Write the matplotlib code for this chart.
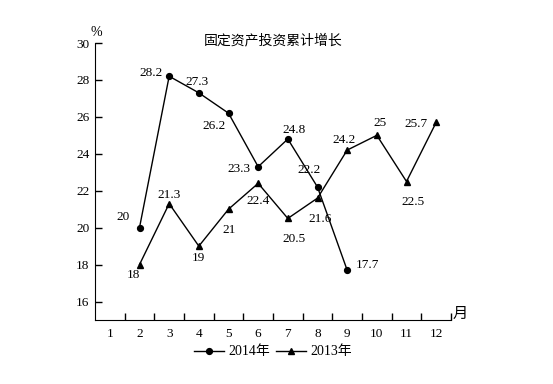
import matplotlib
matplotlib.use("Agg")
import matplotlib.pyplot as plt
from matplotlib.lines import Line2D

months = list(range(1, 13))
month_labels = [str(m) for m in months]
m2014 = [2, 3, 4, 5, 6, 7, 8, 9]
v2014 = [20, 28.2, 27.3, 26.2, 23.3, 24.8, 22.2, 17.7]
m2013 = [2, 3, 4, 5, 6, 7, 8, 9, 10, 11, 12]
v2013 = [18, 21.3, 19, 21, 22.4, 20.5, 21.6, 24.2, 25, 22.5, 25.7]
yticks = [16, 18, 20, 22, 24, 26, 28, 30]
title = "固定资产投资累计增长"
legend_labels = ["2014年", "2013年"]

off2014 = [(-16, 11), (-18, 3), (-2, 11), (-14, -13), (-19, -2), (6, 9), (-8, 17), (20, 5)]
off2013 = [(-6, -10), (0, 9), (0, -12), (1, -21), (0, -18), (6, -21), (3, -21), (-3, 10), (3, 12), (7, -20), (-20, -2)]

serif = ["Liberation Serif", "Noto Sans CJK SC"]
cjk = ["Noto Sans CJK SC", "Liberation Serif"]
plt.rcParams['font.family'] = serif

fig = plt.figure(figsize=(5.53, 3.84), dpi=100)
ax = fig.add_axes([95/553, 1-320/384, (451-95)/553, (320-43)/384])

ax.plot(m2014, v2014, color="black", lw=1, marker="o", ms=4.2)
ax.plot(m2013, v2013, color="black", lw=1, marker="^", ms=4.8)

for x, y, o in zip(m2014, v2014, off2014):
    ax.annotate(f"{y:g}", (x, y), xytext=o, textcoords="offset pixels",
                ha="center", va="center", fontsize=9.5, family=serif)
for x, y, o in zip(m2013, v2013, off2013):
    ax.annotate(f"{y:g}", (x, y), xytext=o, textcoords="offset pixels",
                ha="center", va="center", fontsize=9.5, family=serif)

ax.set_xlim(0.5, 12.5)
ax.set_ylim(15, 30)
ax.spines['top'].set_visible(False)
ax.spines['right'].set_visible(False)
ax.set_yticks(yticks)
ax.set_yticklabels([str(t) for t in yticks], fontsize=9.5)
ax.tick_params(axis='y', direction='in', length=5, width=1, pad=4)
ax.set_xticks(months)
ax.set_xticklabels(month_labels, fontsize=9.5)
ax.set_xticks([m + 0.5 for m in months], minor=True)
ax.tick_params(axis='x', which='major', length=0, pad=6)
ax.tick_params(axis='x', which='minor', direction='in', length=5, width=1)

fig.text(273/553, 1-40/384, title, ha="center", va="center", fontsize=10, family=cjk)
fig.text(96/553, 1-33/384, "%", ha="center", va="center", fontsize=10, family=serif)
fig.text(460/553, 1-313/384, "月", ha="center", va="center", fontsize=11, family=cjk)

handles = [Line2D([], [], color="black", lw=1, marker="o", ms=4.2),
           Line2D([], [], color="black", lw=1, marker="^", ms=4.8)]
fig.legend(handles, legend_labels, loc="center", bbox_to_anchor=(273/553, 1-352/384),
           ncol=2, frameon=False, handlelength=2.2, handletextpad=0.3,
           columnspacing=0.4, prop={'family': serif, 'size': 10})

fig.savefig("out.png", dpi=100)
